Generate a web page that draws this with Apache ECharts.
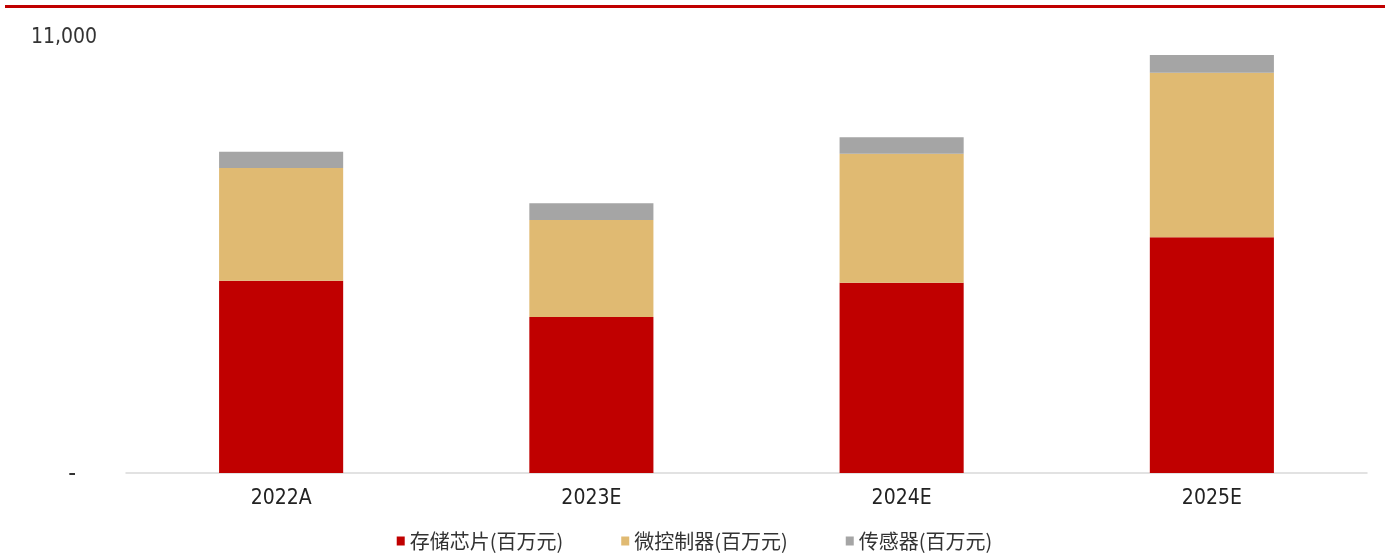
<!DOCTYPE html>
<html>
<head>
<meta charset="utf-8">
<script src="https://cdn.jsdelivr.net/npm/echarts@6/dist/echarts.min.js"></script>
<style>
  html, body { margin: 0; padding: 0; background: #fff; }
  #chart { width: 1389px; height: 557px; }
</style>
</head>
<body>
<div id="chart"></div>
<script>
// Data
const years = ['2022A', '2023E', '2024E', '2025E'];
const memoryChip = [4830, 3915, 4780, 5920];   // 存储芯片
const mcu = [2830, 2440, 3240, 4130];          // 微控制器
const sensor = [410, 420, 410, 445];           // 传感器
const seriesNames = ['存储芯片(百万元)', '微控制器(百万元)', '传感器(百万元)'];
const colors = ['#c00000', '#e0ba72', '#a5a5a5'];

const cjkFont = '"Noto Sans CJK SC", "Noto Sans", sans-serif';
const numFont = '"Liberation Sans Narrow", "DejaVu Sans Condensed", "Liberation Sans", sans-serif';
const chart = echarts.init(document.getElementById('chart'));

function barSeries(name, values, color) {
  return {
    name: name,
    type: 'bar',
    stack: 'total',
    barWidth: '40%',
    itemStyle: { color: color },
    data: values
  };
}

const option = {
  animation: false,
  textStyle: { fontFamily: cjkFont },
  grid: { left: 126, right: 22, top: 35, bottom: 84 },
  graphic: [
    // red rule across the top
    { type: 'rect', left: 5, top: 5, shape: { width: 1380, height: 3 }, style: { fill: '#c00000' } }
  ],
  xAxis: {
    type: 'category',
    data: years,
    axisTick: { show: false },
    axisLine: { lineStyle: { color: '#d9d9d9', width: 1.5 } },
    axisLabel: { color: '#222', fontSize: 21, fontFamily: numFont, margin: 15 }
  },
  yAxis: {
    type: 'value',
    min: 0,
    max: 11000,
    interval: 11000,
    splitLine: { show: false },
    axisLine: { show: false },
    axisTick: { show: false },
    axisLabel: {
      color: '#333',
      fontSize: 21,
      fontFamily: numFont,
      margin: 29,
      padding: [5, 0, 0, 0],
      formatter: v => v === 0 ? '{z|-}' : v.toLocaleString('en-US'),
      rich: { z: { color: '#333', fontSize: 24, fontFamily: numFont, padding: [0, 21, 2, 0] } }
    }
  },
  legend: {
    bottom: 1,
    left: 'center',
    itemWidth: 8,
    itemHeight: 9,
    itemGap: 58,
    icon: 'rect',
    textStyle: { color: '#333', fontSize: 20, fontFamily: cjkFont },
    data: seriesNames
  },
  series: [
    barSeries(seriesNames[0], memoryChip, colors[0]),
    barSeries(seriesNames[1], mcu, colors[1]),
    barSeries(seriesNames[2], sensor, colors[2])
  ]
};

chart.setOption(option);
</script>
</body>
</html>
